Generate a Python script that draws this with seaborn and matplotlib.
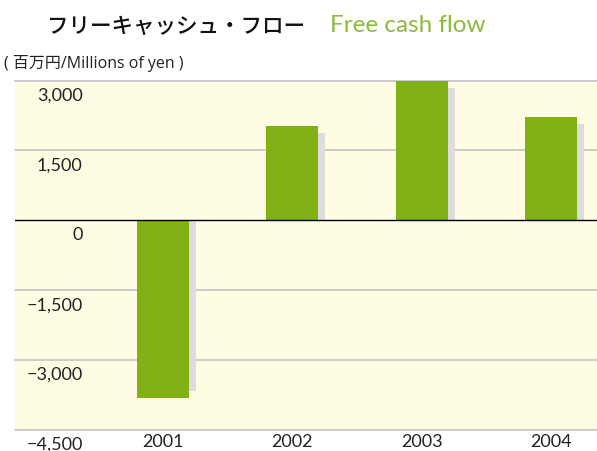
import matplotlib
matplotlib.use("Agg")
import matplotlib.pyplot as plt
from matplotlib.transforms import ScaledTranslation
import numpy as np
import pandas as pd
import seaborn as sns

# ---- data ----
years = ["2001", "2002", "2003", "2004"]
free_cash_flow = [-3810, 2030, 2980, 2225]
y_ticks = [3000, 1500, 0, -1500, -3000, -4500]
y_tick_labels = ["3,000", "1,500", "0", "\u22121,500", "\u22123,000", "\u22124,500"]
title_jp = "フリーキャッシュ・フロー"
title_en = "Free cash flow"
unit_label = "( 百万円/Millions of yen )"

# ---- style ----
GREEN = "#82b116"
TITLE_GREEN = "#8cba3a"
BG = "#fefce3"
SHADOW = "#dddddd"
GRID = "#c6c6c6"
FONT = ["Lato", "Noto Sans CJK JP", "DejaVu Sans"]

sns.set_theme(style="white")
plt.rcParams["font.family"] = FONT

W, H, DPI = 597, 451, 100
fig = plt.figure(figsize=(W / DPI, H / DPI), dpi=DPI)
fig.patch.set_facecolor("white")

left_px, right_px, top_px, bottom_px = 15, 597, 80.5, 430
ax = fig.add_axes([left_px / W, (H - bottom_px) / H,
                   (right_px - left_px) / W, (bottom_px - top_px) / H])
ax.set_facecolor(BG)

df = pd.DataFrame({"year": years, "value": free_cash_flow})

# shadow: bars shifted 7px right and shortened by 7px
px_per_unit = (bottom_px - top_px) / (y_ticks[0] - y_ticks[-1])
shrink = 7 / px_per_unit
df["shadow"] = df["value"] - np.sign(df["value"]) * shrink

bar_w = 0.402
sns.barplot(data=df, x="year", y="shadow", color=SHADOW, width=bar_w,
            saturation=1, ax=ax, zorder=2, linewidth=0, edgecolor="none")
shift = ScaledTranslation(7 / DPI, 0, fig.dpi_scale_trans)
for p in list(ax.patches):
    p.set_transform(ax.transData + shift)

sns.barplot(data=df, x="year", y="value", color=GREEN, width=bar_w,
            saturation=1, ax=ax, zorder=3, linewidth=0, edgecolor="none")

ax.set_xlim(-1.144, 3.356)
ax.set_ylim(y_ticks[-1], y_ticks[0])

# grid lines
for v in y_ticks:
    if v == 0:
        ax.axhline(v, color="black", lw=1.0, zorder=4)
    else:
        ax.axhline(v, color=GRID, lw=1.3, zorder=1, clip_on=False)

for s in ax.spines.values():
    s.set_visible(False)

ax.set_xlabel("")
ax.set_ylabel("")
ax.tick_params(axis="x", length=0, pad=3, labelsize=13, labelcolor="#222222")
ax.set_yticks(y_ticks)
ax.set_yticklabels(y_tick_labels)
ax.tick_params(axis="y", length=0, pad=0, labelsize=13, labelcolor="#222222")
# place y labels inside the plot, under each grid line
ydx = (82.5 - left_px) / DPI
ydy = -15 / DPI
for lab in ax.get_yticklabels():
    lab.set_transform(lab.get_transform() + ScaledTranslation(ydx, ydy, fig.dpi_scale_trans))
    lab.set_verticalalignment("center")
    lab.set_horizontalalignment("right")

# titles
fig.text(47 / W, 1 - 27 / H, title_jp, fontsize=15.5, color="#111111",
         family=["Noto Sans CJK JP", "DejaVu Sans"], weight="medium",
         ha="left", va="center")
fig.text(330 / W, 1 - 25 / H, title_en, fontsize=17.5, color=TITLE_GREEN,
         ha="left", va="center")
fig.text(4 / W, 1 - 64 / H, unit_label, fontsize=11.5, color="#222222",
         family=["Open Sans", "Noto Sans CJK JP", "DejaVu Sans"],
         ha="left", va="center")

fig.savefig("out.png", dpi=DPI)
